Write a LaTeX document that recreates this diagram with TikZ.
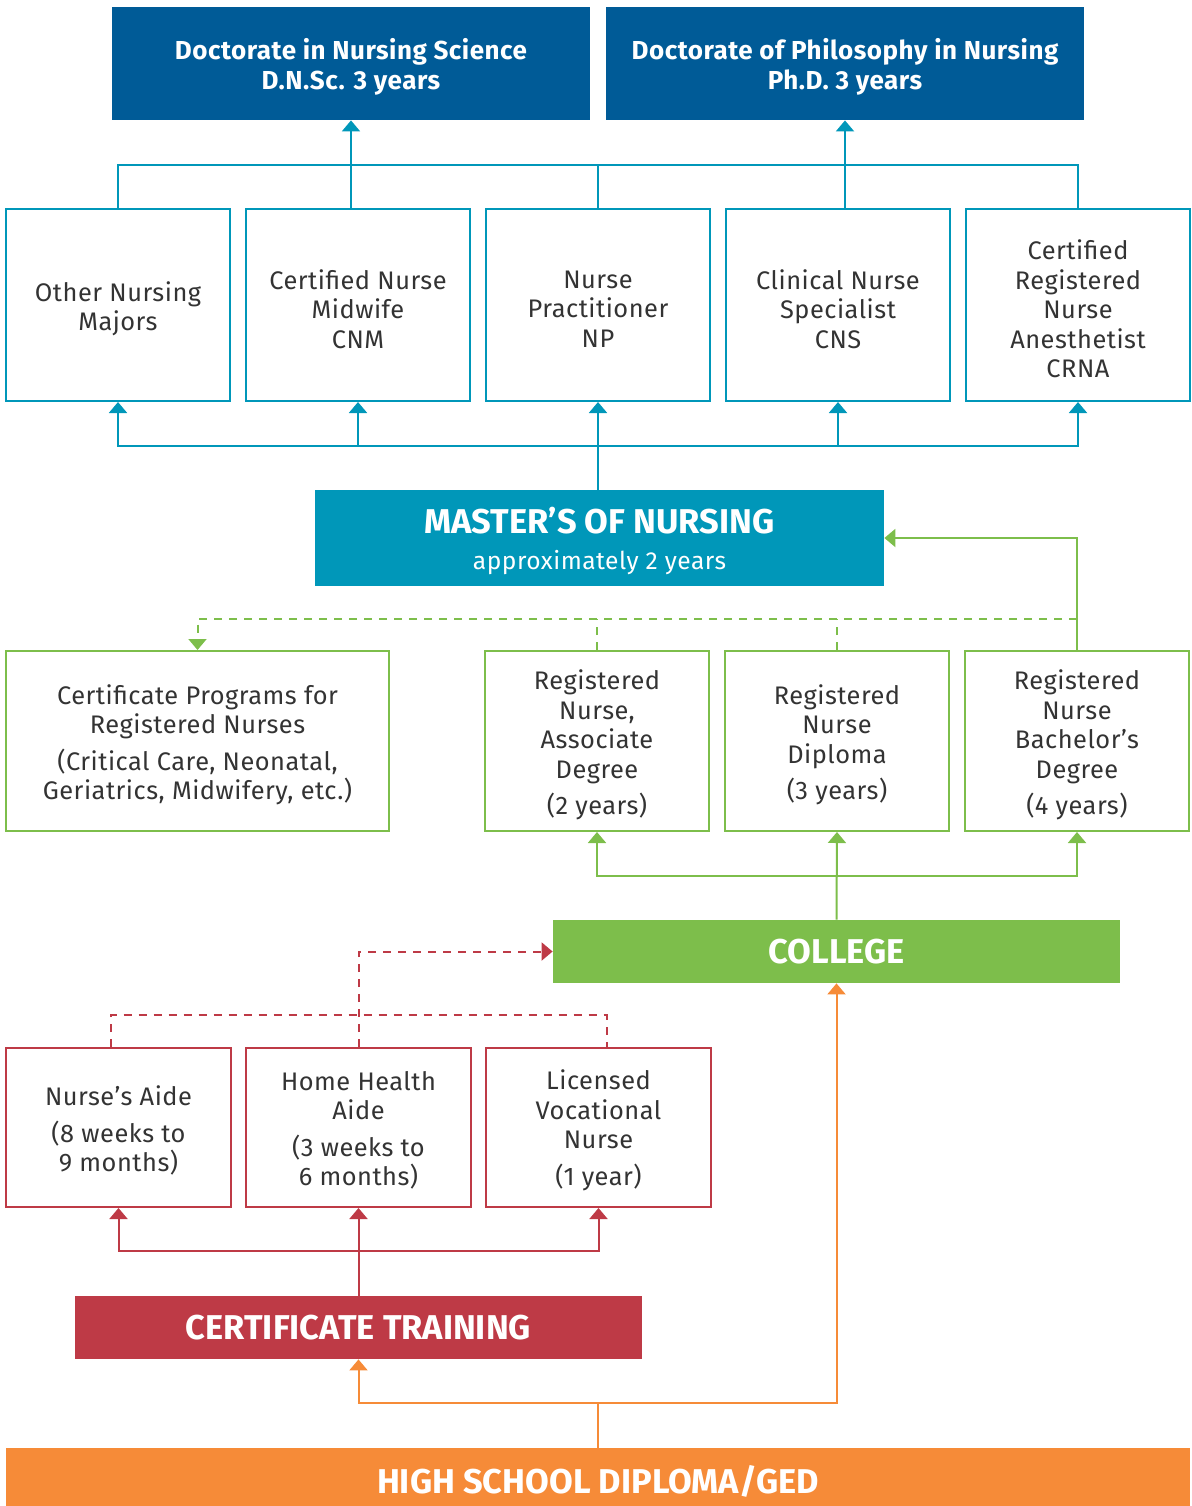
\documentclass[tikz,border=0pt]{standalone}
\usepackage{fontspec}
\setmainfont{Fira Sans}[LetterSpace=2]
\newfontfamily\headfont{Fira Sans}
\usetikzlibrary{arrows.meta}
\definecolor{dblue}{RGB}{0,91,151}
\definecolor{teal}{RGB}{0,151,185}
\definecolor{grn}{RGB}{125,190,75}
\definecolor{rd}{RGB}{190,58,70}
\definecolor{orng}{RGB}{246,139,56}
\begin{document}
\begin{tikzpicture}[x=0.5pt,y=0.5pt,
  tip/.style={-{Triangle[width=9pt,length=5.5pt]}},
  tl/.style={draw=teal,line width=1pt},
  gl/.style={draw=grn,line width=1pt},
  rl/.style={draw=rd,line width=1pt},
  ol/.style={draw=orng,line width=1pt},
  dsh/.style={dash pattern=on 4pt off 3.5pt},
  body/.style={font=\fontsize{12.7}{14.75}\selectfont,align=center,text=black!80,inner sep=0pt},
  tbox/.style={draw=teal,line width=1pt,minimum width=112pt,minimum height=96pt,inner sep=0pt},
  gbox/.style={draw=grn,line width=1pt,minimum width=112pt,minimum height=90pt,inner sep=0pt},
  rbox/.style={draw=rd,line width=1pt,minimum width=112.5pt,minimum height=79.5pt,inner sep=0pt},
  doc/.style={text=white,font=\bfseries\fontsize{13}{15}\selectfont,align=center,inner sep=0pt},
  head/.style={text=white,font=\headfont\bfseries\fontsize{17.2}{19}\selectfont,align=center,inner sep=0pt}
]
\useasboundingbox (0,0) rectangle (1192,-1506);
% doctorate
\node[fill=dblue,minimum width=239pt,minimum height=56.5pt,inner sep=0pt] (doc1) at (351,-63.5) {};
\node[doc] at ([yshift=-1.5pt]doc1.center) {Doctorate in Nursing Science\\D.N.Sc. 3 years};
\node[fill=dblue,minimum width=239pt,minimum height=56.5pt,inner sep=0pt] (doc2) at (845,-63.5) {};
\node[doc] at ([yshift=-1.5pt]doc2.center) {Doctorate of Philosophy in Nursing\\Ph.D. 3 years};
% specialties
\node[tbox] (om) at (118,-305) {};
\node[body] at ([yshift=-2pt]om.center) {Other Nursing\\Majors};
\node[tbox] (cnm) at (358,-305) {};
\node[body] at ([yshift=-2pt]cnm.center) {Certified Nurse\\Midwife\\CNM};
\node[tbox] (np) at (598,-305) {};
\node[body] at ([yshift=-2pt]np.center) {Nurse\\Practitioner\\NP};
\node[tbox] (cns) at (838,-305) {};
\node[body] at ([yshift=-2pt]cns.center) {Clinical Nurse\\Specialist\\CNS};
\node[tbox] (cr) at (1078,-305) {};
\node[body] at ([yshift=-2pt]cr.center) {Certified\\Registered\\Nurse\\Anesthetist\\CRNA};
% masters
\node[fill=teal,minimum width=284.5pt,minimum height=48pt,inner sep=0pt] (ms) at (599.5,-538) {};
\node[head] (mst) at (599.5,-521) {MASTER’S OF NURSING};
\node[text=white,font=\fontsize{12.3}{14}\selectfont,inner sep=0pt] (msy) at (599.5,-563) {approximately 2 years};
% green boxes
\node[gbox,minimum width=191.5pt] (cert) at (197.5,-741) {};
\node[body] at ([yshift=-2pt]cert.center) {Certificate Programs for\\Registered Nurses\\[3.5pt](Critical Care, Neonatal,\\Geriatrics, Midwifery, etc.)};
\node[gbox] (rna) at (597,-741) {};
\node[body] at ([yshift=-2pt]rna.center) {Registered\\Nurse,\\Associate\\Degree\\[3.5pt](2 years)};
\node[gbox] (rnd) at (837,-741) {};
\node[body] at ([yshift=-2pt]rnd.center) {Registered\\Nurse\\Diploma\\[3.5pt](3 years)};
\node[gbox] (rnb) at (1077,-741) {};
\node[body] at ([yshift=-2pt]rnb.center) {Registered\\Nurse\\Bachelor’s\\Degree\\[3.5pt](4 years)};
% college
\node[fill=grn,minimum width=283.5pt,minimum height=31.5pt,inner sep=0pt] (col) at (836.5,-951.5) {};
\node[head] at (col) {COLLEGE};
% red boxes
\node[rbox] (na) at (118.5,-1127.5) {};
\node[body] at ([yshift=-1.5pt]na.center) {Nurse’s Aide\\[3.5pt](8 weeks to\\9 months)};
\node[rbox] (hha) at (358.5,-1127.5) {};
\node[body] at ([yshift=-1.5pt]hha.center) {Home Health\\Aide\\[3.5pt](3 weeks to\\6 months)};
\node[rbox] (lvn) at (598.5,-1127.5) {};
\node[body] at ([yshift=-1.5pt]lvn.center) {Licensed\\Vocational\\Nurse\\[3.5pt](1 year)};
% certificate training
\node[fill=rd,minimum width=283.5pt,minimum height=31.5pt,inner sep=0pt] (ct) at (358.5,-1327.5) {};
\node[head] at (ct) {CERTIFICATE TRAINING};
% high school
\node[fill=orng,minimum width=592pt,minimum height=29pt,inner sep=0pt] (hs) at (598,-1477) {};
\node[head] at ([yshift=-2pt]hs.center) {HIGH SCHOOL DIPLOMA/GED};
% ---- teal connectors
\coordinate (top) at (0,-165);
\draw[tl] (om.north) -- (om.north |- top) -- (cr.north |- top) -- (cr.north);
\draw[tl,tip] (cnm.north -| doc1.south) -- (doc1.south);
\draw[tl] (np.north) -- (np.north |- top);
\draw[tl,tip] (cns.north -| doc2.south) -- (doc2.south);
\coordinate (mid) at (0,-446);
\draw[tl,tip] (np.south |- ms.north) -- (np.south);
\draw[tl,tip] (np.south |- mid) -| (om.south);
\draw[tl,tip] (np.south |- mid) -| (cnm.south);
\draw[tl,tip] (np.south |- mid) -| (cns.south);
\draw[tl,tip] (np.south |- mid) -| (cr.south);
% ---- green connectors
\draw[gl,tip] (rnb.north) |- (ms.east);
\coordinate (gd) at (0,-619);
\draw[gl,dsh,tip] (rnb.north |- gd) -| (cert.north);
\draw[gl,dsh] (rna.north) -- (rna.north |- gd);
\draw[gl,dsh] (rnd.north) -- (rnd.north |- gd);
\coordinate (gb) at (0,-876);
\draw[gl,tip] (col.north) -- (rnd.south);
\draw[gl,tip] (rnd.south |- gb) -| (rna.south);
\draw[gl,tip] (rnd.south |- gb) -| (rnb.south);
% ---- red connectors
\draw[rl,dsh,tip] (hha.north) |- (col.west);
\draw[rl,dsh] ([xshift=-4pt]na.north) -- ++(0,32) -| ([xshift=4pt]lvn.north);
\coordinate (rb) at (0,-1251);
\draw[rl,tip] (ct.north) -- (hha.south);
\draw[rl,tip] (hha.south |- rb) -| (na.south);
\draw[rl,tip] (hha.south |- rb) -| (lvn.south);
% ---- orange connectors
\draw[ol] (hs.north) -- ++(0,45) coordinate (ob);
\draw[ol,tip] (ob) -| (ct.south);
\draw[ol,tip] (ob) -| (col.south);
\end{tikzpicture}
\end{document}
